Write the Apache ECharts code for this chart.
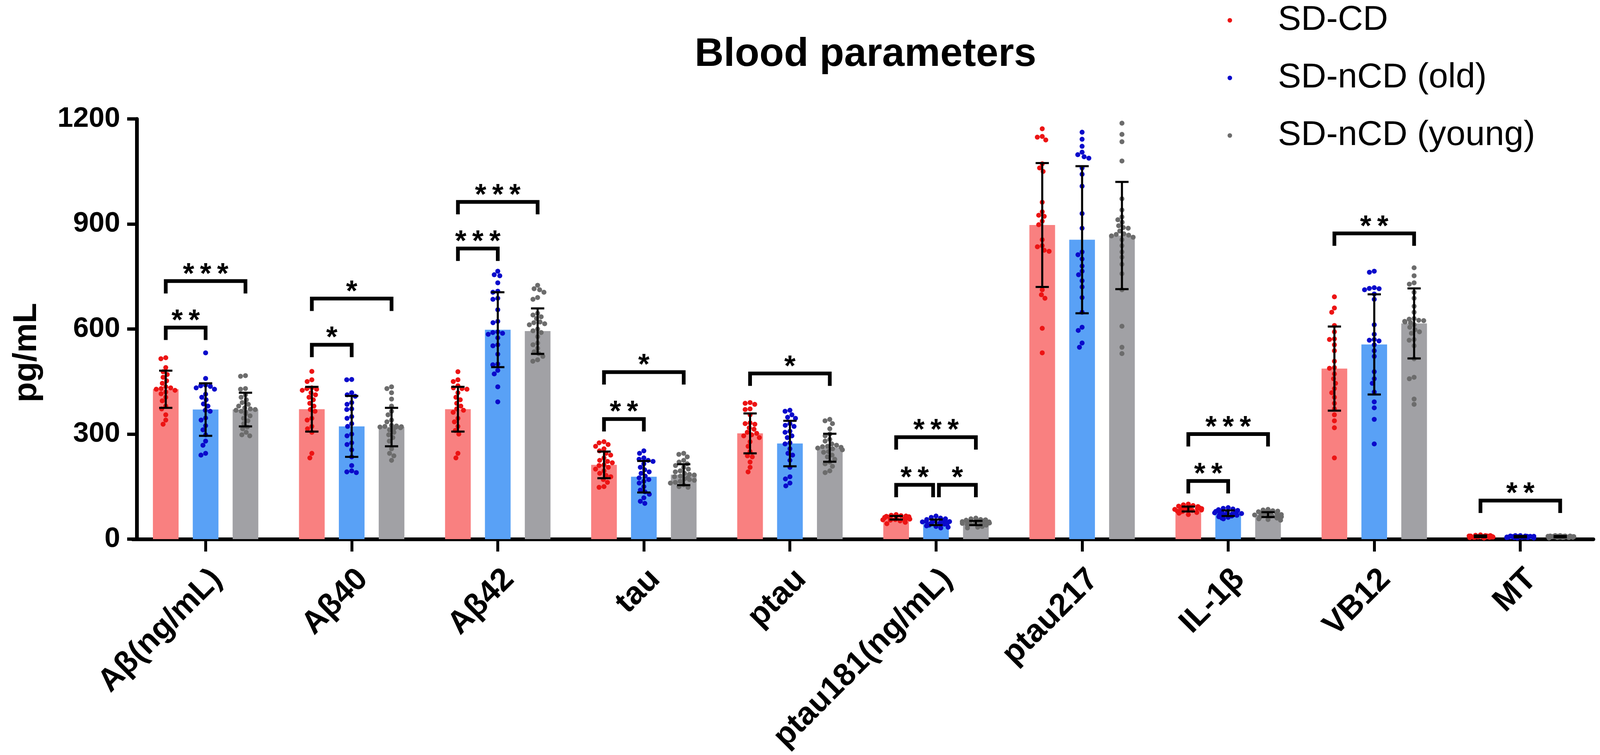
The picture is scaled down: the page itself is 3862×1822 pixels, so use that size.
<!DOCTYPE html>
<html>
<head>
<meta charset="utf-8">
<script src="https://cdn.jsdelivr.net/npm/echarts@6/dist/echarts.min.js"></script>
<style>
html,body{margin:0;padding:0;background:#fff;}
#chart{width:3862px;height:1822px;}
</style>
</head>
<body>
<div id="chart"></div>
<script>
// ---------------- DATA ----------------
const categories = ['Aβ(ng/mL)', 'Aβ40', 'Aβ42', 'tau', 'ptau', 'ptau181(ng/mL)', 'ptau217', 'IL-1β', 'VB12', 'MT'];
const groups = ['SD-CD', 'SD-nCD (old)', 'SD-nCD (young)'];
const yMin = 0, yMax = 1200, yStep = 300;

const meanSDCD  = [428, 371, 371, 212, 302, 61, 897, 86, 487, 8];
const meanOld   = [370, 322, 598, 178, 273, 48, 855, 74, 556, 7];
const meanYoung = [370, 320, 594, 184, 261, 46, 867, 70, 616, 7];

const sdSDCD  = [53, 64, 64, 38, 57, 5, 177, 7, 120, 2.5];
const sdOld   = [75, 87, 107, 45, 65, 8, 210, 8, 143, 2];
const sdYoung = [48, 55, 65, 30, 40, 6, 153, 7, 100, 2];

const ptsSDCD = [
  [518, 515, 490, 478, 470, 462, 452, 445, 435, 432, 430, 428, 425, 420, 415, 405, 395, 380, 372, 355, 340, 328],
  [479, 455, 450, 432, 430, 428, 425, 418, 412, 405, 398, 388, 380, 370, 365, 345, 340, 322, 315, 305, 245, 232],
  [478, 455, 450, 438, 432, 430, 428, 418, 405, 398, 388, 380, 372, 368, 362, 345, 335, 322, 310, 300, 245, 232],
  [278, 275, 270, 265, 258, 252, 245, 240, 232, 225, 222, 218, 212, 210, 205, 200, 195, 188, 182, 178, 170, 162, 150, 148],
  [390, 388, 385, 372, 370, 355, 332, 330, 328, 318, 314, 305, 302, 298, 295, 290, 278, 265, 250, 238, 235, 220, 205, 192],
  [70, 68, 67, 66, 65, 64, 63, 62, 62, 61, 60, 60, 59, 58, 57, 56, 55, 54, 52, 50, 48, 44],
  [1172, 1150, 1148, 1140, 1072, 1060, 1050, 962, 935, 925, 922, 908, 898, 855, 838, 835, 825, 822, 712, 698, 688, 602, 532],
  [100, 98, 96, 94, 93, 92, 91, 90, 89, 88, 87, 86, 85, 84, 83, 82, 80, 79, 78, 76, 74, 70],
  [692, 660, 648, 610, 592, 572, 570, 555, 538, 508, 490, 488, 472, 458, 445, 430, 418, 405, 388, 372, 355, 338, 318, 232],
  [12, 11, 10, 10, 9, 9, 9, 8, 8, 8, 7, 7, 7, 6, 6, 6, 5, 5, 5, 4, 4, 3]
];
const ptsOld = [
  [532, 459, 440, 438, 436, 432, 428, 414, 405, 398, 386, 380, 368, 365, 346, 340, 324, 312, 298, 280, 268, 245, 240],
  [456, 455, 418, 412, 408, 390, 385, 372, 370, 350, 345, 330, 322, 300, 295, 275, 270, 255, 235, 210, 195, 192, 190],
  [765, 755, 752, 732, 708, 705, 688, 685, 655, 622, 618, 592, 590, 588, 585, 575, 555, 552, 528, 500, 498, 482, 472, 435, 392],
  [252, 245, 232, 228, 225, 222, 215, 205, 198, 192, 188, 180, 175, 170, 165, 160, 150, 140, 135, 128, 118, 108, 102],
  [368, 365, 355, 348, 345, 330, 325, 322, 308, 305, 295, 290, 275, 272, 258, 245, 240, 225, 205, 178, 172, 160, 152],
  [66, 62, 60, 58, 56, 55, 54, 52, 51, 50, 49, 48, 47, 46, 45, 44, 43, 42, 40, 38, 36, 34, 32],
  [1162, 1142, 1122, 1105, 1098, 1092, 1088, 1060, 1042, 1008, 930, 888, 820, 812, 800, 780, 765, 755, 738, 720, 690, 648, 605, 596, 560, 548],
  [90, 88, 86, 84, 82, 80, 79, 78, 77, 76, 75, 74, 73, 72, 71, 70, 69, 68, 66, 64, 62, 60, 58],
  [765, 762, 718, 716, 715, 712, 700, 685, 612, 585, 570, 568, 566, 555, 538, 522, 478, 458, 445, 420, 392, 375, 342, 272],
  [10, 10, 9, 9, 8, 8, 8, 7, 7, 7, 7, 6, 6, 6, 6, 5, 5, 5, 4, 4, 4, 3, 3]
];
const ptsYoung = [
  [467, 465, 430, 428, 412, 405, 398, 390, 385, 380, 375, 372, 370, 368, 365, 362, 358, 352, 345, 338, 330, 320, 315, 305, 298, 295],
  [435, 430, 418, 400, 380, 365, 355, 340, 335, 325, 323, 322, 321, 320, 320, 318, 316, 312, 305, 298, 290, 280, 258, 245, 238, 225],
  [725, 715, 712, 705, 690, 685, 645, 640, 635, 630, 620, 618, 615, 612, 600, 595, 590, 578, 560, 555, 545, 535, 530, 522, 512, 508],
  [245, 242, 235, 225, 220, 215, 210, 205, 200, 195, 192, 188, 185, 183, 180, 178, 175, 172, 170, 168, 165, 162, 160, 155, 150, 148],
  [342, 338, 330, 315, 300, 295, 285, 280, 272, 268, 265, 264, 262, 260, 258, 255, 250, 248, 240, 235, 228, 220, 215, 208, 195, 190],
  [60, 58, 56, 55, 54, 53, 52, 51, 50, 50, 49, 48, 48, 47, 46, 46, 45, 44, 43, 42, 41, 40, 38, 36, 34, 32],
  [1188, 1156, 1135, 1080, 972, 940, 920, 912, 905, 895, 890, 888, 880, 872, 870, 868, 866, 862, 855, 838, 820, 805, 785, 758, 712, 608, 548, 530],
  [85, 83, 81, 80, 78, 77, 76, 75, 74, 73, 72, 71, 70, 70, 69, 68, 67, 66, 65, 64, 63, 62, 60, 58, 56, 54],
  [775, 752, 732, 728, 705, 688, 665, 648, 630, 628, 625, 624, 622, 620, 618, 612, 605, 598, 592, 588, 570, 568, 552, 515, 462, 458, 400, 385],
  [10, 10, 9, 9, 9, 8, 8, 8, 8, 7, 7, 7, 7, 7, 6, 6, 6, 6, 5, 5, 5, 5, 4, 4, 4, 3]
];

// significance brackets: category, from group, to group, height (pg/mL), label
const bracketCat   = [0, 0, 1, 1, 2, 2, 3, 3, 4, 5, 5, 5, 7, 7, 8, 9];
const bracketFrom  = [0, 0, 0, 0, 0, 0, 0, 0, 0, 0, 1, 0, 0, 0, 0, 0];
const bracketTo    = [1, 2, 1, 2, 1, 2, 1, 2, 2, 1, 2, 2, 1, 2, 2, 2];
const bracketLevel = [604, 737, 555, 687, 830, 963, 343, 477, 473, 155, 155, 291, 166, 300, 873, 110];
const bracketStars = ['**', '***', '*', '*', '***', '***', '**', '*', '*', '**', '*', '***', '**', '***', '**', '**'];

// ---------------- STYLE ----------------
const FONT = "'Liberation Sans', Arial, Helvetica, sans-serif";
const barColors = ['#F98080', '#59A1F6', '#A1A1A5'];
const dotColors = ['#EC1414', '#0A0ACB', '#6C6C6C'];
const GRID = { left: 320, top: 287, width: 3526, height: 1014 };
const BAR_W = 62;
const GROUP_STEP = 96.2;   // px between bar centres within a category
const CAP_W = 32;

const means = [meanSDCD, meanOld, meanYoung];
const sds = [sdSDCD, sdOld, sdYoung];
const pts = [ptsSDCD, ptsOld, ptsYoung];

const grids = [Object.assign({ containLabel: false, outerBoundsMode: 'none' }, GRID)];
const xAxes = [{
  type: 'category', gridIndex: 0, data: categories,
  axisLine: { show: true, lineStyle: { color: '#000', width: 9 } },
  axisTick: { show: true, alignWithLabel: true, length: 30, lineStyle: { color: '#000', width: 7 } },
  axisLabel: { interval: 0, rotate: 45, margin: 58, align: 'right', verticalAlign: 'top',
               fontSize: 77, fontWeight: 'bold', color: '#000', fontFamily: FONT },
  splitLine: { show: false }
}];
const yAxes = [{
  type: 'value', gridIndex: 0, min: yMin, max: yMax, interval: yStep, offset: -10,
  name: 'pg/mL', nameLocation: 'middle', nameGap: 225,
  nameTextStyle: { fontSize: 80, fontWeight: 'bold', color: '#000', fontFamily: FONT, padding: [0, 114, 0, 0] },
  axisLine: { show: true, lineStyle: { color: '#000', width: 9 } },
  axisTick: { show: true, length: 23, lineStyle: { color: '#000', width: 8 } },
  axisLabel: { margin: 40, fontSize: 68, fontWeight: 'bold', color: '#000', fontFamily: FONT,
               formatter: function (v) { return String(v); } },
  splitLine: { show: false }
}];
for (let g = 0; g < 3; g++) {
  grids.push(Object.assign({ containLabel: false, outerBoundsMode: 'none' }, GRID, { left: GRID.left + (g - 1) * GROUP_STEP }));
  xAxes.push({ type: 'category', gridIndex: g + 1, data: categories, show: false,
               jitter: 66, jitterOverlap: false, jitterMargin: 0 });
  yAxes.push({ type: 'value', gridIndex: g + 1, min: yMin, max: yMax, show: false });
}

const series = [];
for (let g = 0; g < 3; g++) {
  series.push({
    type: 'bar', name: groups[g], xAxisIndex: 0, yAxisIndex: 0,
    data: means[g], barWidth: BAR_W, barGap: ((GROUP_STEP - BAR_W) / BAR_W * 100).toFixed(1) + '%',
    itemStyle: { color: barColors[g] }, z: 2, silent: true
  });
}
for (let g = 0; g < 3; g++) {
  const data = [];
  pts[g].forEach((arr, c) => arr.forEach(v => data.push([c, v])));
  series.push({
    type: 'scatter', name: groups[g], xAxisIndex: g + 1, yAxisIndex: g + 1,
    data: data, symbol: 'circle', symbolSize: 12,
    itemStyle: { color: dotColors[g], opacity: 1 }, z: 3, silent: true
  });
}
for (let g = 0; g < 3; g++) {
  series.push({
    type: 'custom', name: 'err' + g, xAxisIndex: g + 1, yAxisIndex: g + 1, z: 4, silent: true,
    data: categories.map((_, c) => [c, means[g][c], sds[g][c]]),
    renderItem: function (params, api) {
      const c = api.value(0), m = api.value(1), s = api.value(2);
      const top = api.coord([c, m + s]);
      const bot = api.coord([c, Math.max(0, m - s)]);
      const st = { stroke: '#000', lineWidth: 5 };
      return { type: 'group', children: [
        { type: 'line', shape: { x1: top[0], y1: top[1], x2: bot[0], y2: bot[1] }, style: st },
        { type: 'line', shape: { x1: top[0] - CAP_W / 2, y1: top[1], x2: top[0] + CAP_W / 2, y2: top[1] }, style: st },
        { type: 'line', shape: { x1: bot[0] - CAP_W / 2, y1: bot[1], x2: bot[0] + CAP_W / 2, y2: bot[1] }, style: st }
      ]};
    }
  });
}
series.push({
  type: 'custom', name: 'brackets', xAxisIndex: 0, yAxisIndex: 0, z: 5, silent: true,
  data: bracketCat.map((c, i) => [c, bracketLevel[i], i]),
  renderItem: function (params, api) {
    const i = api.value(2);
    const p = api.coord([api.value(0), api.value(1)]);
    let x1 = p[0] + (bracketFrom[i] - 1) * GROUP_STEP;
    let x2 = p[0] + (bracketTo[i] - 1) * GROUP_STEP;
    for (let j = 0; j < bracketCat.length; j++) {
      if (j === i || bracketCat[j] !== bracketCat[i] || bracketLevel[j] !== bracketLevel[i]) continue;
      if (bracketTo[j] === bracketFrom[i]) x1 += 7;
      if (bracketFrom[j] === bracketTo[i]) x2 -= 7;
    }
    const y = p[1], leg = 30;
    return { type: 'group', children: [
      { type: 'polyline', shape: { points: [[x1, y + leg], [x1, y], [x2, y], [x2, y + leg]] },
        style: { stroke: '#000', lineWidth: 9, fill: null, lineJoin: 'miter', lineCap: 'butt' } },
      { type: 'text', x: (x1 + x2) / 2, y: y - 14,
        style: { text: bracketStars[i].split('').join('\u2009'), fill: '#000', fontSize: 70, fontWeight: 'bold',
                 fontFamily: FONT, align: 'center', verticalAlign: 'middle' } }
    ]};
  }
});

const option = {
  backgroundColor: '#fff',
  animation: false,
  title: {
    text: 'Blood parameters', left: 2089, top: 84, textAlign: 'center', padding: 0,
    textStyle: { fontSize: 97, fontWeight: 'bold', color: '#000', fontFamily: FONT, lineHeight: 97 }
  },
  legend: {
    orient: 'vertical', left: 2958, top: 2, itemWidth: 222, itemHeight: 11, itemGap: 55,
    icon: 'circle', selectedMode: false,
    textStyle: { fontSize: 84, lineHeight: 84, color: '#000', fontFamily: FONT },
    data: groups.map((n, g) => ({ name: n, itemStyle: { color: dotColors[g] } }))
  },
  grid: grids,
  xAxis: xAxes,
  yAxis: yAxes,
  series: series
};

const chart = echarts.init(document.getElementById('chart'), null, { renderer: 'canvas' });
chart.setOption(option);
</script>
</body>
</html>
